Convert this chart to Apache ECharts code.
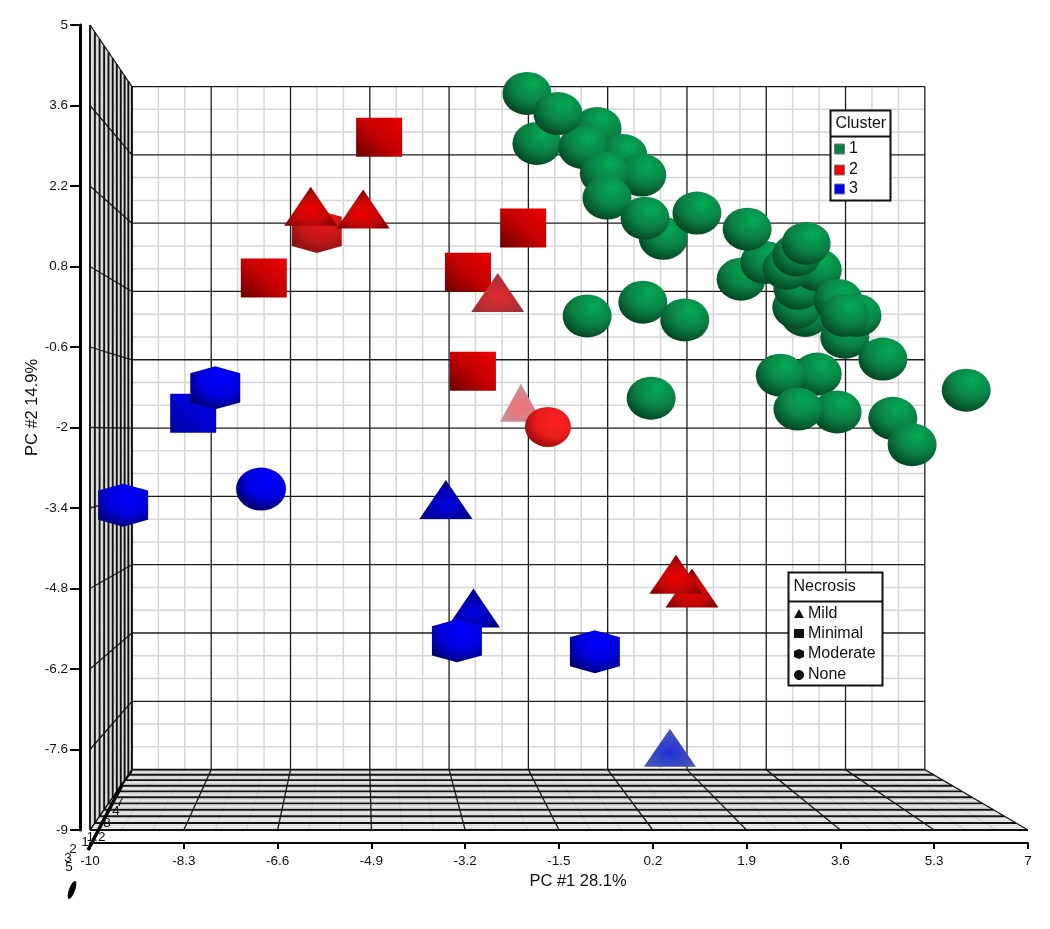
<!DOCTYPE html>
<html lang="en">
<head>
<meta charset="UTF-8">
<title>PCA clusters</title>
<script src="https://cdn.jsdelivr.net/npm/echarts@6/dist/echarts.min.js"></script>
<style>
  html, body { margin: 0; padding: 0; background: #fff; }
  #main { width: 1050px; height: 929px; }
</style>
</head>
<body>
<div id="main"></div>
<script>
// axis ticks
var xTicks = [-10, -8.3, -6.6, -4.9, -3.2, -1.5, 0.2, 1.9, 3.6, 5.3, 7];
var yTicks = [-9, -7.6, -6.2, -4.8, -3.4, -2, -0.6, 0.8, 2.2, 3.6, 5];
var depthTicks = ['5', '3', '2', '1', '1.2', '8', '4', '7'];

var clusterNames = ['1', '2', '3'];
var necrosisNames = ['Mild', 'Minimal', 'Moderate', 'None'];

// PC1, PC2, listed back to front
var greenNone = [
  [-2.08, 3.81], [-1.90, 2.94], [-0.81, 3.20], [-0.34, 2.73], [0.00, 2.39], [-1.07, 2.87],
  [-1.52, 3.46], [-0.68, 2.42], [-0.63, 1.99], [0.39, 1.29], [0.06, 1.64], [1.00, 1.73],
  [-0.99, -0.06], [0.02, 0.18], [0.78, -0.13], [0.17, -1.49],
  [1.80, 0.58], [2.23, 0.87], [1.91, 1.45],
  [2.96, -0.05], [2.81, 0.09], [2.83, 0.42], [3.18, 0.74], [2.63, 0.77], [2.81, 1.00], [2.98, 1.20],
  [3.68, -0.43], [3.56, 0.21], [3.90, -0.05], [3.68, -0.05], [4.37, -0.81],
  [3.18, -1.07], [2.51, -1.09], [3.54, -1.73], [2.83, -1.68],
  [4.55, -1.84], [4.90, -2.30], [5.88, -1.35]
];
var redMinimal = [[-4.76, 3.05], [-2.15, 1.47], [-6.85, 0.60], [-3.15, 0.70], [-3.06, -1.02]];
var redModerate = [[-5.89, 1.41]];
var redMild = [[-6.00, 1.85], [-5.05, 1.80], [0.91, -4.79], [0.62, -4.55]];
var redMildFar = [[-2.61, 0.35]];
var redMildFarthest = [[-2.19, -1.57]];
var redNone = [[-1.70, -1.99]];
var blueMinimal = [[-8.13, -1.75]];
var blueMild = [[-3.55, -3.25], [-3.05, -5.14]];
var blueMildFar = [[0.51, -7.57]];
var blueModerate = [[-7.73, -1.31], [-9.40, -3.35], [-3.35, -5.71], [-0.85, -5.90]];
var blueNone = [[-6.90, -3.07]];

var HEX = 'path://M50 0L100 16L100 84L50 100L0 84L0 16Z';

function radial(x, y, r, c0, c1, c2) {
  return { type: 'radial', x: x, y: y, r: r, colorStops: [
    { offset: 0, color: c0 }, { offset: 0.55, color: c1 }, { offset: 1, color: c2 }
  ] };
}
function diagonal(c0, c1, c2) {
  return { type: 'linear', x: 1, y: 0, x2: 0, y2: 1, colorStops: [
    { offset: 0, color: c0 }, { offset: 0.5, color: c1 }, { offset: 1, color: c2 }
  ] };
}

// box in perspective: back wall is a smaller copy of the front plane
var backLeft = -9.24, backRight = 5.13, backTop = 3.93, backBottom = -7.95;
var persp = 0.183;
function depthFrac(t) {
  return (1 - 1 / (1 + persp * t)) / (1 - 1 / (1 + persp));
}
function project(x, y, t) {
  var s = depthFrac(t);
  var bx = backLeft + (x + 10) / 17 * (backRight - backLeft);
  var by = backBottom + (y + 9) / 14 * (backTop - backBottom);
  return [x + (bx - x) * s, y + (by - y) * s];
}
function seg(a, b) { return [a[0], a[1], b[0], b[1]]; }

function boxLines(div, skipMajor) {
  var out = [];
  var xs = [], ys = [];
  var n = 10 * div;
  for (var i = 0; i <= n; i++) {
    if (skipMajor && i % div === 0) continue;
    xs.push(-10 + 17 * i / n);
    ys.push(-9 + 14 * i / n);
  }
  xs.forEach(function (x) {
    out.push(seg(project(x, -9, 1), project(x, 5, 1)));   // back wall
    out.push(seg(project(x, -9, 0), project(x, -9, 1)));  // floor
  });
  ys.forEach(function (y) {
    out.push(seg(project(-10, y, 1), project(7, y, 1)));   // back wall
    out.push(seg(project(-10, y, 0), project(-10, y, 1))); // left wall
  });
  return out;
}
// floor rows and left wall columns, one per depth step
function depthLines(div, skipMajor) {
  var out = [];
  var n = 10 * div;
  for (var i = 0; i <= n; i++) {
    if (skipMajor && i % div === 0) continue;
    var t = i / n;
    out.push(seg(project(-10, -9, t), project(7, -9, t)));
    out.push(seg(project(-10, -9, t), project(-10, 5, t)));
  }
  return out;
}

function lineSeries(data, color, width) {
  return {
    type: 'custom',
    silent: true,
    z: 1,
    data: data,
    encode: { x: [0, 2], y: [1, 3] },
    renderItem: function (params, api) {
      var a = api.coord([api.value(0), api.value(1)]);
      var b = api.coord([api.value(2), api.value(3)]);
      return {
        type: 'line',
        shape: { x1: a[0], y1: a[1], x2: b[0], y2: b[1] },
        style: { stroke: color, lineWidth: width, fill: null }
      };
    }
  };
}

function marks(name, data, symbol, size, color) {
  return {
    name: name,
    type: 'scatter',
    z: 5,
    data: data,
    symbol: symbol,
    symbolSize: size,
    itemStyle: { color: color, opacity: 1 }
  };
}

var TEXT = '"Liberation Sans", Arial, sans-serif';
var ballSize = [49, 43], boxSize = [46, 39], triSize = [53, 39], hexSize = [50, 43];

var redTri = radial(0.5, 0.6, 0.6, '#f00000', '#c00808', '#7c0000');
var blueTri = radial(0.5, 0.62, 0.6, '#0000e0', '#0000b4', '#000078');

var series = [
  lineSeries(boxLines(3, true), '#d6d6d6', 1.5),
  lineSeries(depthLines(3, true), '#d6d6d6', 1.5),
  lineSeries(boxLines(1, false), '#1c1c1c', 1.3),
  lineSeries(depthLines(1, false), '#111', 1.9),
  marks('3 None', blueNone, 'circle', [50, 43], radial(0.62, 0.32, 0.72, '#0000ff', '#0000e2', '#00005c')),
  marks('3 Minimal', blueMinimal, 'rect', boxSize, diagonal('#0000ee', '#0000d0', '#00009c')),
  marks('3 Mild far', blueMildFar, 'triangle', [52, 38], radial(0.5, 0.62, 0.6, '#2030d8', '#3a48c4', '#4a58ac')),
  marks('3 Mild', blueMild, 'triangle', triSize, blueTri),
  marks('3 Moderate', blueModerate, HEX, hexSize, radial(0.6, 0.3, 0.75, '#0000ff', '#0000dc', '#000070')),
  marks('2 Minimal', redMinimal, 'rect', boxSize, diagonal('#ee0000', '#c40000', '#6c0000')),
  marks('2 Moderate', redModerate, HEX, hexSize, radial(0.62, 0.25, 0.8, '#f01414', '#c41818', '#8a1010')),
  marks('2 Mild', redMild, 'triangle', triSize, redTri),
  marks('2 Mild far', redMildFar, 'triangle', triSize, radial(0.5, 0.6, 0.6, '#e02a30', '#c02c34', '#963038')),
  marks('2 Mild farthest', redMildFarthest, 'triangle', [42, 38], radial(0.5, 0.6, 0.6, '#ee7078', '#d88088', '#c09898')),
  marks('2 None', redNone, 'circle', [46, 40], radial(0.65, 0.35, 0.75, '#ff2020', '#e81c1c', '#8c0808')),
  marks('1 None', greenNone, 'circle', ballSize, radial(0.62, 0.28, 0.78, '#03ab55', '#0b8044', '#023e1c'))
];

// legends, drawn as boxes with a header row
function legendBox(x, y, w, h, headerH, title) {
  return [
    { type: 'rect', shape: { x: x, y: y, width: w, height: h },
      style: { fill: '#fff', stroke: '#111', lineWidth: 2 }, z: 20 },
    { type: 'line', shape: { x1: x, y1: y + headerH, x2: x + w, y2: y + headerH },
      style: { stroke: '#111', lineWidth: 2 }, z: 21 },
    { type: 'text', x: x + 5, y: y + headerH / 2, z: 21,
      style: { text: title, font: '16px ' + TEXT, fill: '#111', verticalAlign: 'middle' } }
  ];
}
function legendText(label, x, y) {
  return { type: 'text', x: x, y: y, z: 21,
    style: { text: label, font: '16px ' + TEXT, fill: '#111', verticalAlign: 'middle' } };
}

var swatches = ['#0a8048', '#f00000', '#0000f0'];
var clusterY = [149, 170, 189];
var necrosisY = [614, 634, 654, 675];

var graphics = legendBox(830.5, 110.5, 60, 90, 26, 'Cluster').concat(legendBox(788.5, 572.5, 94, 113, 29, 'Necrosis'));
clusterNames.forEach(function (name, i) {
  graphics.push({ type: 'rect', shape: { x: 834.5, y: clusterY[i] - 5, width: 10, height: 10 },
    style: { fill: swatches[i], stroke: '#777', lineWidth: 1 }, z: 21 });
  graphics.push(legendText(name, 849, clusterY[i]));
});
necrosisNames.forEach(function (name, i) {
  graphics.push(legendText(name, 808, necrosisY[i]));
});
graphics.push(
  { type: 'polygon', shape: { points: [[799, necrosisY[0] - 5], [804, necrosisY[0] + 4], [794, necrosisY[0] + 4]] }, style: { fill: '#111' }, z: 21 },
  { type: 'rect', shape: { x: 794, y: necrosisY[1] - 5, width: 10, height: 9 }, style: { fill: '#111' }, z: 21 },
  { type: 'polygon', shape: { points: [[799, necrosisY[2] - 5], [804, necrosisY[2] - 3], [804, necrosisY[2] + 3], [799, necrosisY[2] + 5], [794, necrosisY[2] + 3], [794, necrosisY[2] - 3]] }, style: { fill: '#111' }, z: 21 },
  { type: 'ellipse', shape: { cx: 799, cy: necrosisY[3], rx: 5, ry: 5 }, style: { fill: '#111' }, z: 21 }
);

// the squashed depth axis in the lower left corner
var depthPos = [[69, 867], [68, 858], [73, 849], [85, 842], [96, 837], [107, 823], [116, 811], [120, 802]];
graphics.push(
  { type: 'line', shape: { x1: 88, y1: 850, x2: 122, y2: 785 }, style: { stroke: '#000', lineWidth: 3.5 }, z: 8 },
  { type: 'line', shape: { x1: 122, y1: 785, x2: 132, y2: 771 }, style: { stroke: '#000', lineWidth: 1.5 }, z: 8 },
  { type: 'ellipse', x: 72, y: 890, rotation: -0.35, shape: { cx: 0, cy: 0, rx: 3, ry: 9.5 }, style: { fill: '#000' }, z: 8 }
);
depthTicks.forEach(function (label, i) {
  graphics.push({ type: 'text', x: depthPos[i][0], y: depthPos[i][1], z: 9,
    style: { text: label, font: '13.5px ' + TEXT, fill: '#111', align: 'center', verticalAlign: 'middle' } });
});

var option = {
  backgroundColor: '#fff',
  animation: false,
  textStyle: { fontFamily: TEXT },
  grid: { left: 90, right: 22, top: 25, bottom: 99 },
  xAxis: {
    type: 'value', min: -10, max: 7, offset: 13,
    name: 'PC #1 28.1%', nameLocation: 'middle', nameGap: 30,
    nameTextStyle: { fontSize: 16.5, color: '#111', padding: [0, 0, 0, 38] },
    splitLine: { show: false },
    axisLine: { onZero: false, lineStyle: { color: '#000', width: 2 } },
    axisTick: { customValues: xTicks, length: 6, lineStyle: { color: '#000', width: 2 } },
    axisLabel: { customValues: xTicks, margin: 11, fontSize: 13.5, color: '#111', hideOverlap: false,
      formatter: function (v) { return String(v); } }
  },
  yAxis: {
    type: 'value', min: -9, max: 5, offset: 10,
    name: 'PC #2 14.9%', nameLocation: 'middle', nameGap: 39, nameMoveOverlap: false,
    nameTextStyle: { fontSize: 16.5, color: '#111', padding: [0, 0, 0, 40] },
    splitLine: { show: false },
    axisLine: { onZero: false, lineStyle: { color: '#000', width: 3 } },
    axisTick: { customValues: yTicks, length: 10, lineStyle: { color: '#000', width: 2 } },
    axisLabel: { customValues: yTicks, margin: 12, fontSize: 13.5, color: '#111', hideOverlap: false,
      formatter: function (v) { return String(v); } }
  },
  graphic: { elements: graphics },
  series: series
};

var myChart = echarts.init(document.getElementById('main'));
myChart.setOption(option);
</script>
</body>
</html>
